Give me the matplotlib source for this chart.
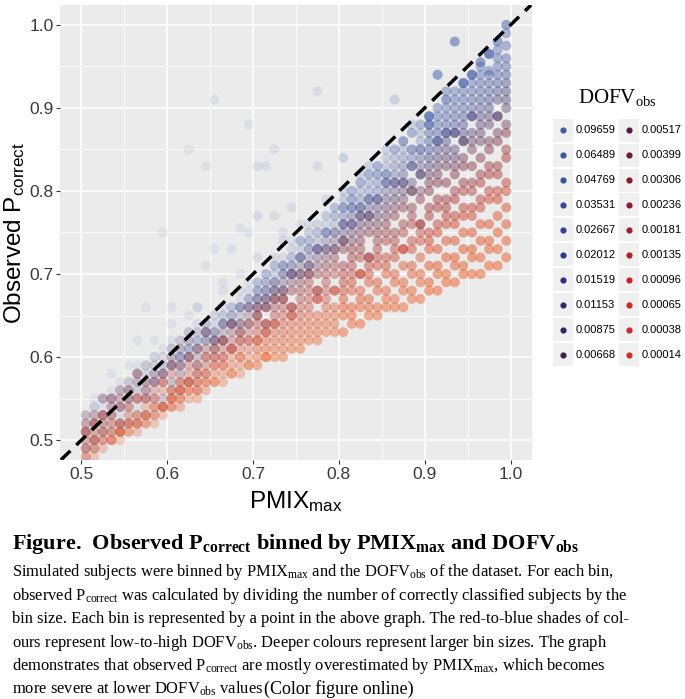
import matplotlib
matplotlib.use("Agg")
import matplotlib.pyplot as plt
from matplotlib.patches import Rectangle

# PMIX_max bin centres (x)
pmix_bins = [0.505, 0.515, 0.525, 0.535, 0.545, 0.555, 0.565, 0.575, 0.585, 0.595,
             0.605, 0.615, 0.625, 0.635, 0.645, 0.655, 0.665, 0.675, 0.685, 0.695,
             0.705, 0.715, 0.725, 0.735, 0.745, 0.755, 0.765, 0.775, 0.785, 0.795,
             0.805, 0.815, 0.825, 0.835, 0.845, 0.855, 0.865, 0.875, 0.885, 0.895,
             0.905, 0.915, 0.925, 0.935, 0.945, 0.955, 0.965, 0.975, 0.985, 0.995]

dofv_labels = ["0.09659", "0.06489", "0.04769", "0.03531", "0.02667",
               "0.02012", "0.01519", "0.01153", "0.00875", "0.00668",
               "0.00517", "0.00399", "0.00306", "0.00236", "0.00181",
               "0.00135", "0.00096", "0.00065", "0.00038", "0.00014"]

# legend key colours
dofv_colours = ["#3e5ba9", "#3a56a6", "#3551a2", "#304a9d", "#2c4296",
                "#293a8c", "#2a3180", "#302a70", "#382462", "#3f2052",
                "#521c42", "#6b1b38", "#801b30", "#911c2c", "#a21e2a",
                "#b32028", "#c42327", "#cd2626", "#d32827", "#d72b27"]
# colours of the translucent points in the panel
point_colours = ["#3e5ba9", "#3a56a6", "#3551a2", "#304a9d", "#2c4296",
                 "#293a8c", "#2a3180", "#302a70", "#382462", "#3f2052",
                 "#5c2040", "#7a2232", "#93262c", "#a82b28", "#bb3125",
                 "#cc3a22", "#da4420", "#e24e20", "#e85622", "#ec5e24"]

# observed P_correct per PMIX bin, one list per DOFV_obs level
pc_09659 = [0.53, 0.55, 0.51, 0.58, 0.52, 0.59, 0.62, 0.66, 0.60, 0.75,
            0.64, 0.61, 0.85, 0.66, 0.83, 0.91, 0.69, 0.66, 0.70, 0.88,
            0.72, 0.83, 0.85, 0.75, 0.74, 0.76, 0.75, 0.92, 0.79, 0.78,
            0.84, 0.80, 0.82, 0.83, 0.82, 0.85, 0.91, 0.86, 0.87, 0.88,
            0.89, 0.94, 0.91, 0.98, 0.93, 0.94, 0.955, 0.965, 0.98, 1.00]
pc_06489 = [0.50, 0.54, 0.55, 0.51, 0.57, 0.55, 0.59, 0.58, 0.62, 0.57,
            0.66, 0.60, 0.65, 0.62, 0.71, 0.73, 0.64, 0.73, 0.755, 0.75,
            0.83, 0.70, 0.77, 0.72, 0.78, 0.74, 0.75, 0.83, 0.77, 0.78,
            0.80, 0.79, 0.81, 0.82, 0.83, 0.84, 0.85, 0.86, 0.88, 0.88,
            0.89, 0.90, 0.92, 0.92, 0.93, 0.94, 0.95, 0.965, 0.97, 0.99]
pc_04769 = [0.51, 0.53, 0.52, 0.56, 0.54, 0.57, 0.55, 0.59, 0.57, 0.61,
            0.62, 0.59, 0.63, 0.66, 0.62, 0.65, 0.68, 0.66, 0.67, 0.69,
            0.77, 0.70, 0.72, 0.74, 0.72, 0.74, 0.76, 0.75, 0.77, 0.78,
            0.79, 0.80, 0.81, 0.82, 0.83, 0.83, 0.85, 0.86, 0.87, 0.87,
            0.88, 0.89, 0.90, 0.91, 0.92, 0.93, 0.94, 0.945, 0.96, 0.975]
pc_03531 = [0.50, 0.52, 0.54, 0.53, 0.55, 0.56, 0.54, 0.58, 0.58, 0.59,
            0.61, 0.60, 0.62, 0.64, 0.63, 0.65, 0.66, 0.65, 0.68, 0.67,
            0.69, 0.70, 0.71, 0.71, 0.73, 0.74, 0.74, 0.76, 0.76, 0.77,
            0.78, 0.79, 0.80, 0.81, 0.82, 0.82, 0.84, 0.85, 0.85, 0.86,
            0.88, 0.88, 0.89, 0.90, 0.91, 0.92, 0.93, 0.94, 0.95, 0.96]
pc_02667 = [0.51, 0.51, 0.53, 0.54, 0.53, 0.55, 0.57, 0.56, 0.58, 0.59,
            0.60, 0.60, 0.61, 0.62, 0.64, 0.64, 0.65, 0.66, 0.66, 0.68,
            0.69, 0.69, 0.71, 0.71, 0.72, 0.73, 0.74, 0.75, 0.75, 0.77,
            0.78, 0.78, 0.79, 0.80, 0.81, 0.82, 0.83, 0.84, 0.85, 0.85,
            0.87, 0.87, 0.88, 0.89, 0.90, 0.91, 0.92, 0.93, 0.94, 0.95]
pc_02012 = [0.50, 0.52, 0.52, 0.54, 0.54, 0.55, 0.56, 0.57, 0.57, 0.59,
            0.59, 0.60, 0.61, 0.62, 0.63, 0.63, 0.65, 0.65, 0.66, 0.67,
            0.68, 0.69, 0.70, 0.71, 0.71, 0.72, 0.73, 0.74, 0.75, 0.76,
            0.77, 0.78, 0.78, 0.79, 0.80, 0.81, 0.82, 0.83, 0.84, 0.85,
            0.86, 0.86, 0.87, 0.88, 0.89, 0.90, 0.91, 0.92, 0.93, 0.94]
pc_01519 = [0.51, 0.51, 0.52, 0.53, 0.54, 0.55, 0.56, 0.57, 0.57, 0.58,
            0.59, 0.60, 0.61, 0.61, 0.62, 0.63, 0.64, 0.65, 0.66, 0.67,
            0.68, 0.68, 0.69, 0.70, 0.71, 0.72, 0.73, 0.73, 0.75, 0.75,
            0.76, 0.77, 0.78, 0.79, 0.79, 0.81, 0.81, 0.82, 0.83, 0.84,
            0.85, 0.86, 0.87, 0.87, 0.88, 0.89, 0.90, 0.91, 0.92, 0.93]
pc_01153 = [0.52, 0.54, 0.51, 0.55, 0.56, 0.53, 0.58, 0.56, 0.60, 0.58,
            0.61, 0.59, 0.63, 0.61, 0.64, 0.63, 0.64, 0.64, 0.66, 0.66,
            0.67, 0.68, 0.69, 0.70, 0.70, 0.72, 0.72, 0.73, 0.74, 0.75,
            0.76, 0.76, 0.77, 0.78, 0.79, 0.80, 0.81, 0.81, 0.83, 0.83,
            0.84, 0.85, 0.86, 0.87, 0.87, 0.89, 0.89, 0.90, 0.91, 0.92]
pc_00875 = [0.49, 0.52, 0.55, 0.53, 0.54, 0.57, 0.55, 0.59, 0.57, 0.60,
            0.59, 0.62, 0.60, 0.63, 0.62, 0.62, 0.64, 0.64, 0.65, 0.66,
            0.67, 0.67, 0.68, 0.69, 0.70, 0.71, 0.71, 0.73, 0.73, 0.74,
            0.75, 0.76, 0.77, 0.77, 0.78, 0.79, 0.80, 0.81, 0.81, 0.82,
            0.83, 0.84, 0.85, 0.85, 0.86, 0.87, 0.88, 0.89, 0.89, 0.91]
pc_00668 = [0.51, 0.50, 0.53, 0.55, 0.52, 0.56, 0.58, 0.55, 0.59, 0.58,
            0.57, 0.61, 0.62, 0.60, 0.63, 0.62, 0.63, 0.64, 0.64, 0.66,
            0.66, 0.67, 0.68, 0.68, 0.70, 0.70, 0.71, 0.72, 0.73, 0.73,
            0.74, 0.75, 0.76, 0.77, 0.77, 0.78, 0.79, 0.80, 0.80, 0.82,
            0.82, 0.83, 0.84, 0.84, 0.86, 0.86, 0.87, 0.88, 0.89, 0.90]
pc_00517 = [0.53, 0.50, 0.55, 0.52, 0.56, 0.54, 0.57, 0.55, 0.58, 0.55,
            0.60, 0.58, 0.60, 0.59, 0.63, 0.62, 0.62, 0.64, 0.64, 0.65,
            0.66, 0.66, 0.67, 0.68, 0.69, 0.70, 0.70, 0.71, 0.72, 0.73,
            0.74, 0.74, 0.75, 0.76, 0.76, 0.77, 0.78, 0.79, 0.80, 0.80,
            0.81, 0.82, 0.83, 0.83, 0.84, 0.85, 0.86, 0.86, 0.87, 0.88]
pc_00399 = [0.49, 0.53, 0.51, 0.55, 0.52, 0.56, 0.53, 0.57, 0.55, 0.58,
            0.56, 0.59, 0.57, 0.61, 0.60, 0.61, 0.62, 0.63, 0.63, 0.64,
            0.65, 0.66, 0.67, 0.67, 0.68, 0.69, 0.70, 0.70, 0.71, 0.72,
            0.73, 0.73, 0.74, 0.75, 0.75, 0.76, 0.77, 0.78, 0.78, 0.79,
            0.80, 0.81, 0.81, 0.82, 0.83, 0.83, 0.84, 0.85, 0.86, 0.87]
pc_00306 = [0.52, 0.49, 0.53, 0.51, 0.55, 0.52, 0.58, 0.53, 0.57, 0.54,
            0.59, 0.56, 0.60, 0.58, 0.61, 0.61, 0.62, 0.61, 0.63, 0.64,
            0.65, 0.64, 0.66, 0.67, 0.66, 0.68, 0.69, 0.68, 0.70, 0.71,
            0.71, 0.72, 0.73, 0.72, 0.74, 0.75, 0.75, 0.76, 0.77, 0.76,
            0.78, 0.79, 0.79, 0.80, 0.81, 0.81, 0.82, 0.83, 0.83, 0.85]
pc_00236 = [0.48, 0.52, 0.50, 0.54, 0.51, 0.55, 0.52, 0.56, 0.54, 0.57,
            0.55, 0.57, 0.59, 0.57, 0.59, 0.60, 0.61, 0.62, 0.62, 0.63,
            0.64, 0.64, 0.65, 0.66, 0.66, 0.67, 0.68, 0.68, 0.69, 0.70,
            0.70, 0.71, 0.72, 0.72, 0.73, 0.74, 0.74, 0.75, 0.76, 0.76,
            0.77, 0.78, 0.78, 0.79, 0.80, 0.80, 0.81, 0.82, 0.82, 0.84]
pc_00181 = [0.51, 0.50, 0.53, 0.50, 0.54, 0.52, 0.55, 0.53, 0.56, 0.54,
            0.58, 0.55, 0.57, 0.59, 0.58, 0.60, 0.60, 0.61, 0.62, 0.62,
            0.63, 0.63, 0.64, 0.65, 0.65, 0.66, 0.67, 0.67, 0.68, 0.68,
            0.69, 0.70, 0.70, 0.71, 0.72, 0.72, 0.73, 0.73, 0.74, 0.75,
            0.75, 0.76, 0.77, 0.77, 0.78, 0.78, 0.79, 0.80, 0.80, 0.81]
pc_00135 = [0.47, 0.52, 0.50, 0.53, 0.51, 0.54, 0.52, 0.55, 0.53, 0.57,
            0.54, 0.56, 0.58, 0.56, 0.60, 0.59, 0.60, 0.61, 0.61, 0.62,
            0.62, 0.63, 0.64, 0.64, 0.65, 0.65, 0.66, 0.67, 0.67, 0.68,
            0.68, 0.69, 0.70, 0.70, 0.71, 0.71, 0.72, 0.73, 0.73, 0.74,
            0.74, 0.75, 0.76, 0.76, 0.77, 0.77, 0.78, 0.79, 0.79, 0.80]
pc_00096 = [0.51, 0.49, 0.52, 0.50, 0.52, 0.51, 0.55, 0.52, 0.55, 0.56,
            0.55, 0.57, 0.56, 0.58, 0.57, 0.59, 0.59, 0.60, 0.60, 0.61,
            0.62, 0.62, 0.63, 0.63, 0.64, 0.64, 0.65, 0.65, 0.66, 0.66,
            0.67, 0.68, 0.68, 0.69, 0.69, 0.70, 0.70, 0.71, 0.71, 0.72,
            0.73, 0.73, 0.74, 0.74, 0.75, 0.75, 0.76, 0.76, 0.77, 0.78]
pc_00065 = [0.49, 0.51, 0.49, 0.52, 0.51, 0.53, 0.51, 0.54, 0.53, 0.54,
            0.56, 0.54, 0.57, 0.56, 0.58, 0.58, 0.59, 0.59, 0.60, 0.60,
            0.61, 0.61, 0.62, 0.62, 0.63, 0.63, 0.64, 0.64, 0.65, 0.65,
            0.66, 0.66, 0.67, 0.67, 0.68, 0.68, 0.69, 0.69, 0.70, 0.70,
            0.71, 0.71, 0.72, 0.72, 0.73, 0.73, 0.74, 0.74, 0.75, 0.76]
pc_00038 = [0.50, 0.48, 0.51, 0.50, 0.51, 0.52, 0.53, 0.52, 0.54, 0.53,
            0.55, 0.56, 0.55, 0.57, 0.56, 0.57, 0.58, 0.58, 0.59, 0.59,
            0.60, 0.60, 0.61, 0.61, 0.62, 0.62, 0.63, 0.63, 0.64, 0.64,
            0.65, 0.65, 0.66, 0.66, 0.66, 0.67, 0.67, 0.68, 0.68, 0.69,
            0.69, 0.70, 0.70, 0.71, 0.71, 0.72, 0.72, 0.73, 0.73, 0.74]
pc_00014 = [0.48, 0.50, 0.47, 0.51, 0.50, 0.51, 0.52, 0.53, 0.52, 0.54,
            0.54, 0.55, 0.56, 0.55, 0.57, 0.57, 0.57, 0.58, 0.58, 0.59,
            0.59, 0.60, 0.60, 0.60, 0.61, 0.61, 0.62, 0.62, 0.63, 0.63,
            0.63, 0.64, 0.64, 0.65, 0.65, 0.66, 0.66, 0.66, 0.67, 0.67,
            0.68, 0.68, 0.69, 0.69, 0.70, 0.70, 0.70, 0.71, 0.71, 0.72]

pcorrect_by_dofv = [pc_09659, pc_06489, pc_04769, pc_03531, pc_02667,
                    pc_02012, pc_01519, pc_01153, pc_00875, pc_00668,
                    pc_00517, pc_00399, pc_00306, pc_00236, pc_00181,
                    pc_00135, pc_00096, pc_00065, pc_00038, pc_00014]

# relative bin size (shown as colour depth) per DOFV level, for PMIX 0.5-0.6, ..., 0.9-1.0
bin_depth = [[0.07, 0.08, 0.10, 0.18, 0.50], [0.07, 0.08, 0.10, 0.18, 0.36],
             [0.07, 0.08, 0.11, 0.20, 0.36], [0.07, 0.09, 0.13, 0.22, 0.36],
             [0.08, 0.10, 0.15, 0.25, 0.36], [0.08, 0.11, 0.17, 0.27, 0.36],
             [0.09, 0.13, 0.20, 0.30, 0.36], [0.11, 0.15, 0.23, 0.30, 0.36],
             [0.13, 0.18, 0.26, 0.32, 0.36], [0.16, 0.21, 0.28, 0.34, 0.36],
             [0.20, 0.24, 0.30, 0.35, 0.38], [0.25, 0.28, 0.34, 0.38, 0.42],
             [0.25, 0.28, 0.34, 0.38, 0.42], [0.25, 0.28, 0.34, 0.40, 0.44],
             [0.25, 0.28, 0.34, 0.40, 0.44], [0.25, 0.28, 0.36, 0.42, 0.46],
             [0.25, 0.28, 0.36, 0.42, 0.46], [0.25, 0.30, 0.38, 0.44, 0.48],
             [0.25, 0.30, 0.38, 0.44, 0.48], [0.25, 0.30, 0.40, 0.46, 0.50]]

major_ticks = [0.5, 0.6, 0.7, 0.8, 0.9, 1.0]
minor_ticks = [0.55, 0.65, 0.75, 0.85, 0.95]

caption_title = (r"Figure.  Observed $\mathregular{P_{correct}}$ binned by "
                 r"$\mathregular{PMIX_{max}}$ and $\mathregular{DOFV_{obs}}$")
caption_lines = [
    r"Simulated subjects were binned by $\mathregular{PMIX_{max}}$ and the $\mathregular{DOFV_{obs}}$ of the dataset. For each bin,",
    r"observed $\mathregular{P_{correct}}$ was calculated by dividing the number of correctly classified subjects by the",
    r"bin size. Each bin is represented by a point in the above graph. The red-to-blue shades of col-",
    r"ours represent low-to-high $\mathregular{DOFV_{obs}}$. Deeper colours represent larger bin sizes. The graph",
    r"demonstrates that observed $\mathregular{P_{correct}}$ are mostly overestimated by $\mathregular{PMIX_{max}}$, which becomes",
    r"more severe at lower $\mathregular{DOFV_{obs}}$ values",
]

W, H = 685, 699
fig = plt.figure(figsize=(W / 100, H / 100), dpi=100)
fig.patch.set_facecolor("white")

ax = fig.add_axes([60 / W, 1 - 460 / H, 472 / W, 455 / H])
ax.set_facecolor("#ebebeb")
for sp in ax.spines.values():
    sp.set_visible(False)
ax.set_xlim(0.475, 1.025)
ax.set_ylim(0.476, 1.024)
ax.set_xticks(major_ticks)
ax.set_yticks(major_ticks)
ax.set_xticks(minor_ticks, minor=True)
ax.set_yticks(minor_ticks, minor=True)
ax.set_xticklabels([f"{t:.1f}" for t in major_ticks])
ax.set_yticklabels([f"{t:.1f}" for t in major_ticks])
ax.grid(which="major", color="white", lw=1.1)
ax.grid(which="minor", color="white", lw=0.55)
ax.set_axisbelow(True)
ax.tick_params(which="minor", length=0)
ax.tick_params(which="major", length=2.75, width=0.8, color="#333333", pad=2,
               labelsize=12.5, labelcolor="#3a3a3a")
for lab in ax.get_xticklabels() + ax.get_yticklabels():
    lab.set_family("Liberation Sans")

for ys, col, depth in zip(pcorrect_by_dofv, point_colours, bin_depth):
    alphas = [depth[min(int((x - 0.5) * 10), 4)] for x in pmix_bins]
    ax.scatter(pmix_bins, ys, s=52, color=col, alpha=alphas, linewidths=0, zorder=2)

ax.axline((0.5, 0.5), slope=1, color="black", lw=2.5, dashes=(3.8, 2.4), zorder=3)

ax.set_ylabel(r"Observed $\mathregular{P_{correct}}$", fontsize=17.5, family="Liberation Sans")
ax.yaxis.set_label_coords(-0.07, 0.5)
ax.set_xlabel(r"$\mathregular{PMIX_{max}}$", fontsize=17.5, family="Liberation Sans")
ax.xaxis.set_label_coords(0.5, -0.063)

# legend drawn in pixel units
lg = fig.add_axes([550 / W, 1 - 380 / H, 135 / W, 310 / H])
lg.set_xlim(550, 685)
lg.set_ylim(380, 70)
lg.axis("off")
lg.text(617, 97, r"DOFV$\mathregular{_{obs}}$", fontsize=15, family="Liberation Serif",
        ha="center", va="center")
for i, (lab, col) in enumerate(zip(dofv_labels, dofv_colours)):
    c, r = divmod(i, 10)
    yc = 130 + 25 * r
    x0 = 553 + 66 * c
    lg.add_patch(Rectangle((x0, yc - 11.5), 20, 23, facecolor="#f0f0f0", edgecolor="none"))
    lg.scatter([x0 + 10], [yc], s=20, color=col, linewidths=0)
    lg.text(x0 + 23, yc, lab, fontsize=8, family="Liberation Sans", ha="left", va="center")

# caption
fig.text(12 / W, 1 - 549 / H, caption_title, fontsize=16, fontweight="bold",
         family="Liberation Serif", ha="left", va="baseline")
last = None
for k, line in enumerate(caption_lines):
    last = fig.text(12 / W, 1 - (576 + 23.6 * k) / H, line, fontsize=11.9,
                    family="Liberation Serif", ha="left", va="baseline")
fig.canvas.draw()
bb = last.get_window_extent()
fig.text((bb.x1 + 1) / W, 1 - (576 + 23.6 * 5) / H, "(Color figure online)", fontsize=13,
         family="Liberation Serif", ha="left", va="baseline")

fig.savefig("out.png", dpi=100)
